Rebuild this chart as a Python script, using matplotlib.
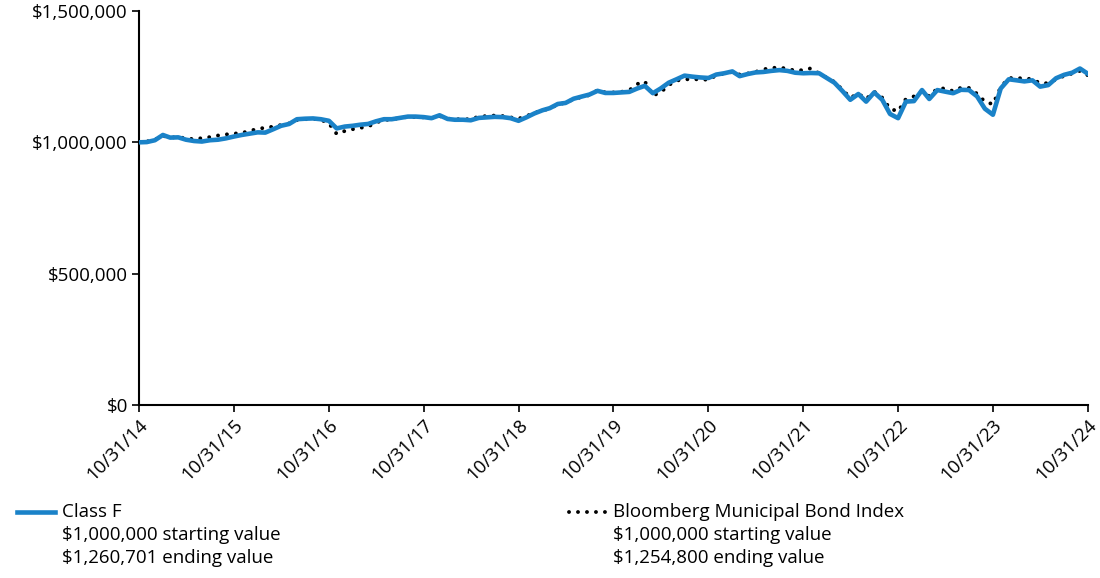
import matplotlib
matplotlib.use("Agg")
import matplotlib.pyplot as plt
from matplotlib.lines import Line2D
from matplotlib.ticker import FuncFormatter
import pandas as pd

plt.rcParams['font.family'] = ['Open Sans', 'DejaVu Sans']

# Monthly values (thousands of $), 10/31/14 .. 10/31/24
class_f = [
    1000, 1001, 1008, 1028, 1018, 1019, 1010, 1005, 1003, 1008, 1010, 1015,
    1022, 1028, 1033, 1038, 1037, 1050, 1063, 1070, 1088, 1090, 1091, 1088,
    1082, 1053, 1060, 1063, 1067, 1070, 1080, 1088, 1088, 1093, 1098, 1098,
    1096, 1092, 1103, 1089, 1086, 1086, 1084, 1093, 1095, 1097, 1096, 1092,
    1082, 1095, 1110, 1122, 1130, 1146, 1150, 1166, 1174, 1182, 1196, 1188,
    1188, 1190, 1192, 1205, 1215, 1187, 1205, 1227, 1240, 1254, 1250, 1247,
    1245, 1258, 1263, 1270, 1252, 1260, 1266, 1268, 1272, 1275, 1272, 1265,
    1263, 1264, 1263, 1244, 1227, 1195, 1162, 1184, 1155, 1190, 1162, 1108,
    1092, 1155, 1157, 1199, 1165, 1199, 1193, 1187, 1200, 1199, 1175, 1128,
    1105, 1205, 1240, 1236, 1232, 1236, 1212, 1218, 1244, 1257, 1265, 1281,
    1260.701,
]
bbg_muni = [
    1000, 1003, 1010, 1025, 1018, 1020, 1015, 1012, 1016, 1020, 1026, 1030,
    1033, 1036, 1043, 1052, 1055, 1060, 1066, 1072, 1085, 1088, 1090, 1086,
    1072, 1032, 1043, 1050, 1055, 1060, 1075, 1085, 1087, 1093, 1097, 1096,
    1095, 1092, 1100, 1090, 1088, 1088, 1088, 1098, 1100, 1102, 1100, 1095,
    1090, 1100, 1112, 1122, 1128, 1145, 1150, 1165, 1172, 1180, 1198, 1190,
    1190, 1192, 1198, 1222, 1232, 1178, 1190, 1218, 1235, 1240, 1240, 1240,
    1238, 1255, 1262, 1268, 1258, 1262, 1268, 1278, 1283, 1285, 1280, 1273,
    1275, 1282, 1262, 1245, 1230, 1200, 1170, 1185, 1165, 1193, 1170, 1128,
    1118, 1165, 1175, 1195, 1175, 1205, 1205, 1195, 1208, 1207, 1185, 1155,
    1145, 1210, 1245, 1244, 1244, 1240, 1225, 1225, 1240, 1253, 1262, 1272,
    1254.8,
]
tick_labels = ['10/31/14', '10/31/15', '10/31/16', '10/31/17', '10/31/18', '10/31/19',
               '10/31/20', '10/31/21', '10/31/22', '10/31/23', '10/31/24']
y_ticks = [0, 500000, 1000000, 1500000]

legend_left = ['Class F', '$1,000,000 starting value', '$1,260,701 ending value']
legend_right = ['Bloomberg Municipal Bond Index', '$1,000,000 starting value', '$1,254,800 ending value']

dates = pd.date_range('2014-10-31', periods=len(class_f), freq='ME')
tick_dates = pd.to_datetime(tick_labels, format='%m/%d/%y')

BLUE = '#1a82c8'
DOT = (0, (0.01, 2.3))
fig = plt.figure(figsize=(11, 5.78), dpi=100)
ax = fig.add_axes([139/1100, 1 - 405/578, 949/1100, 394/578])

ax.plot(dates, [v * 1000 for v in bbg_muni], color='black', lw=2.8,
        linestyle=DOT, dash_capstyle='round', zorder=2)
ax.plot(dates, [v * 1000 for v in class_f], color=BLUE, lw=3.3, zorder=3)

ax.set_xlim(dates[0], dates[-1])
ax.set_ylim(0, 1500000)
ax.set_yticks(y_ticks)
ax.yaxis.set_major_formatter(FuncFormatter(lambda v, p: '${:,.0f}'.format(v)))
ax.set_xticks(tick_dates)
ax.set_xticklabels(tick_labels, rotation=45, ha='right', va='top', rotation_mode='anchor')
ax.tick_params(axis='both', labelsize=13.5, color='black', width=1.2, length=5)
ax.tick_params(axis='y', pad=3)
ax.tick_params(axis='x', pad=3)
for s in ['top', 'right']:
    ax.spines[s].set_visible(False)
for s in ['left', 'bottom']:
    ax.spines[s].set_linewidth(1.5)
    ax.spines[s].set_color('black')

# legend
fs = 13.5
y0, dy = 1 - 512/578, 23/578
fig.add_artist(Line2D([17/1100, 55/1100], [y0, y0], color=BLUE, lw=3.3))
for i, t in enumerate(legend_left):
    fig.text(62/1100, y0 - i*dy, t, fontsize=fs, va='center', ha='left')
fig.add_artist(Line2D([569/1100, 606/1100], [y0, y0], color='black', lw=2.8,
                      linestyle=DOT, dash_capstyle='round'))
for i, t in enumerate(legend_right):
    fig.text(613/1100, y0 - i*dy, t, fontsize=fs, va='center', ha='left')

fig.savefig('out.png', dpi=100)
